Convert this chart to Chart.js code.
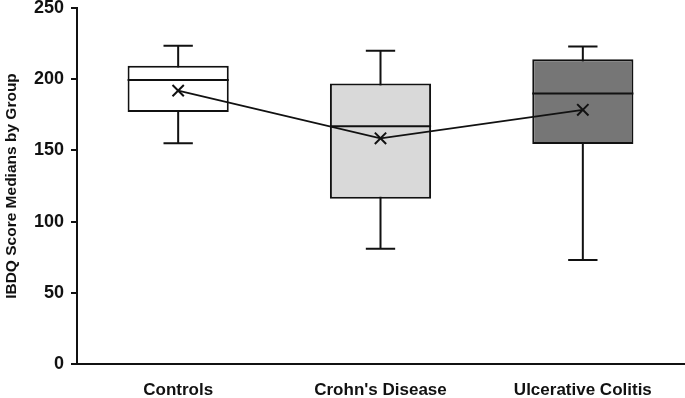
<!DOCTYPE html>
<html>
<head>
<meta charset="utf-8">
<script src="https://cdn.jsdelivr.net/npm/chart.js@4.4.1/dist/chart.umd.min.js"></script>
<style>
  html, body { margin: 0; padding: 0; background: #fff; }
  canvas { display: block; }
</style>
</head>
<body>
<canvas id="boxChart" width="685" height="398"></canvas>
<script>
// IBDQ box plot data
const groups = ['Controls', "Crohn's Disease", 'Ulcerative Colitis'];
const whiskerLow = [155, 81, 73];
const q1 = [177, 116, 154.5];
const medians = [199.5, 167, 190];
const q3 = [209.5, 197, 214];
const whiskerHigh = [223.5, 220, 223];
const means = [192, 158.5, 178.5];
const yTicks = [0, 50, 100, 150, 200, 250];

const boxColors = ['#ffffff', '#d9d9d9', '#767676'];
const ink = '#111111';
const fontFamily = 'Liberation Sans, Arial, sans-serif';

// whiskers + caps behind the box, median line on top of it
const boxParts = {
  id: 'boxParts',
  beforeDatasetDraw(chart, args) {
    if (args.index !== 1) return;
    const ctx = chart.ctx;
    const y = chart.scales.y;
    args.meta.data.forEach((bar, i) => {
      const capHalf = bar.width * 0.145;
      ctx.save();
      ctx.strokeStyle = ink;
      ctx.lineWidth = 2;
      ctx.beginPath();
      ctx.moveTo(bar.x, y.getPixelForValue(whiskerLow[i]));
      ctx.lineTo(bar.x, y.getPixelForValue(whiskerHigh[i]));
      [whiskerLow[i], whiskerHigh[i]].forEach(v => {
        const py = y.getPixelForValue(v);
        ctx.moveTo(bar.x - capHalf, py);
        ctx.lineTo(bar.x + capHalf, py);
      });
      ctx.stroke();
      ctx.restore();
    });
  },
  afterDatasetDraw(chart, args) {
    if (args.index !== 1) return;
    const ctx = chart.ctx;
    const y = chart.scales.y;
    args.meta.data.forEach((bar, i) => {
      const py = y.getPixelForValue(medians[i]);
      ctx.save();
      ctx.strokeStyle = ink;
      ctx.lineWidth = 2;
      ctx.beginPath();
      ctx.moveTo(bar.x - bar.width / 2, py);
      ctx.lineTo(bar.x + bar.width / 2, py);
      ctx.stroke();
      ctx.restore();
    });
  }
};

const ctx = document.getElementById('boxChart').getContext('2d');

const boxChart = new Chart(ctx, {
  type: 'bar',
  data: {
    labels: groups,
    datasets: [
      {
        type: 'line',
        label: 'Mean',
        data: means,
        order: 0,
        borderColor: ink,
        borderWidth: 1.7,
        pointStyle: 'crossRot',
        pointRadius: 8,
        pointBorderWidth: 2,
        pointBorderColor: ink,
        pointBackgroundColor: ink,
        tension: 0
      },
      {
        label: 'IQR',
        data: groups.map((g, i) => [q1[i], q3[i]]),
        order: 1,
        backgroundColor: boxColors,
        borderColor: ink,
        borderWidth: 2,
        borderSkipped: false,
        barPercentage: 0.5,
        categoryPercentage: 1
      }
    ]
  },
  options: {
    responsive: false,
    animation: false,
    layout: { autoPadding: false, padding: { top: 8, right: 1, bottom: 0, left: 0 } },
    plugins: {
      legend: { display: false },
      tooltip: { enabled: false }
    },
    scales: {
      x: {
        grid: { display: false, drawTicks: false },
        border: { display: true, color: ink, width: 2 },
        ticks: {
          color: ink,
          padding: 16,
          font: { family: fontFamily, size: 17, weight: 'bold' }
        },
        afterFit(scale) {
          scale.height = 34;
          scale.paddingLeft = 0;
          scale.paddingRight = 0;
        }
      },
      y: {
        min: 0,
        max: 250,
        afterBuildTicks(scale) {
          scale.ticks = yTicks.map(v => ({ value: v }));
        },
        grid: {
          drawOnChartArea: false,
          drawTicks: true,
          tickLength: 6,
          color: ink,
          lineWidth: 2
        },
        border: { display: true, color: ink, width: 2 },
        ticks: {
          color: ink,
          padding: 7,
          font: { family: fontFamily, size: 18, weight: 'bold' }
        },
        title: {
          display: true,
          text: 'IBDQ Score Medians by Group',
          color: ink,
          padding: { top: 2, bottom: 0 },
          font: { family: fontFamily, size: 15.5, weight: 'bold' }
        },
        afterFit(scale) {
          scale.width = 77;
          scale.paddingTop = 0;
          scale.paddingBottom = 0;
        }
      }
    }
  },
  plugins: [boxParts]
});
</script>
</body>
</html>
